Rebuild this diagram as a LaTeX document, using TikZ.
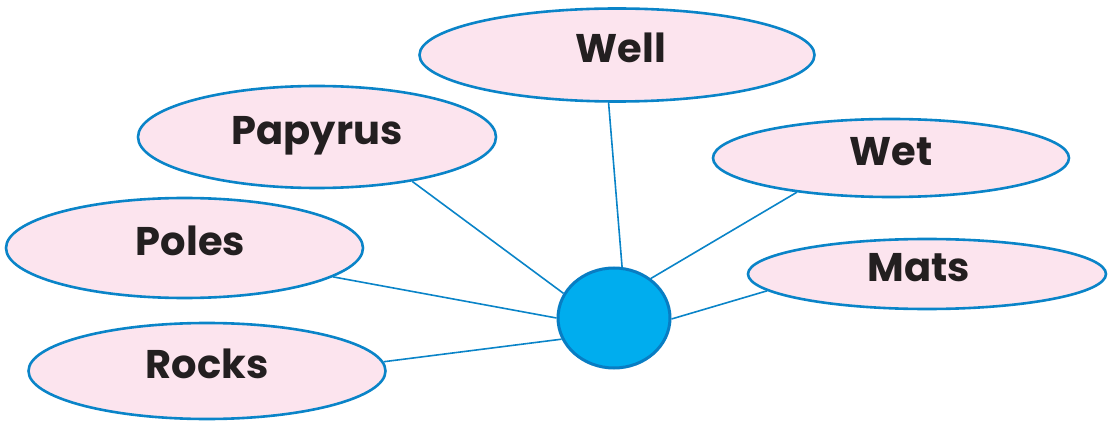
\documentclass[tikz,border=0pt]{standalone}
\usepackage{fontspec}
\setmainfont{Poppins}[BoldFont={* Bold}]
\usetikzlibrary{shapes.geometric}
\definecolor{pinkfill}{RGB}{252,228,238}
\definecolor{edgeblue}{RGB}{10,132,200}
\definecolor{hubedge}{RGB}{8,125,195}
\definecolor{hubfill}{RGB}{0,173,238}
\definecolor{txt}{RGB}{35,31,32}
\tikzset{
  leaf/.style={ellipse, draw=edgeblue, fill=pinkfill, line width=2.6pt, inner sep=0pt,
    text=txt, font=\fontsize{40}{40}\selectfont\bfseries, text height=29pt, text depth=14pt},
  hub/.style={ellipse, draw=hubedge, fill=hubfill, line width=3pt, inner sep=0pt},
  link/.style={draw=edgeblue, line width=1.6pt}
}
\begin{document}
\begin{tikzpicture}[x=1pt,y=-1pt]
\useasboundingbox (0,0) rectangle (1112,425);
\node[hub, minimum width=112pt, minimum height=100pt] (c) at (614,318) {};
\node[leaf, minimum width=395pt, minimum height=93pt] (well) at (617,55) {\hspace*{8pt}Well};
\node[leaf, minimum width=358pt, minimum height=102pt] (pap) at (317,137) {Papyrus};
\node[leaf, minimum width=356pt, minimum height=78pt] (wet) at (891,158) {Wet};
\node[leaf, minimum width=358pt, minimum height=70pt] (mats) at (927,274) {Mats\hspace*{16pt}};
\node[leaf, minimum width=357pt, minimum height=100pt] (poles) at (184.5,248) {\hspace*{12pt}Poles};
\node[leaf, minimum width=357pt, minimum height=96pt] (rocks) at (207,371) {Rocks};
\path[link] (well.-100) -- (c.81);
\path[link] (pap.-25) -- (c.154);
\path[link] (wet.200) -- (c.47);
\path[link] (mats.186) -- (c.-1);
\path[link] (poles.-11) -- (c.180);
\path[link] (rocks.3) -- (c.202);
\end{tikzpicture}
\end{document}
